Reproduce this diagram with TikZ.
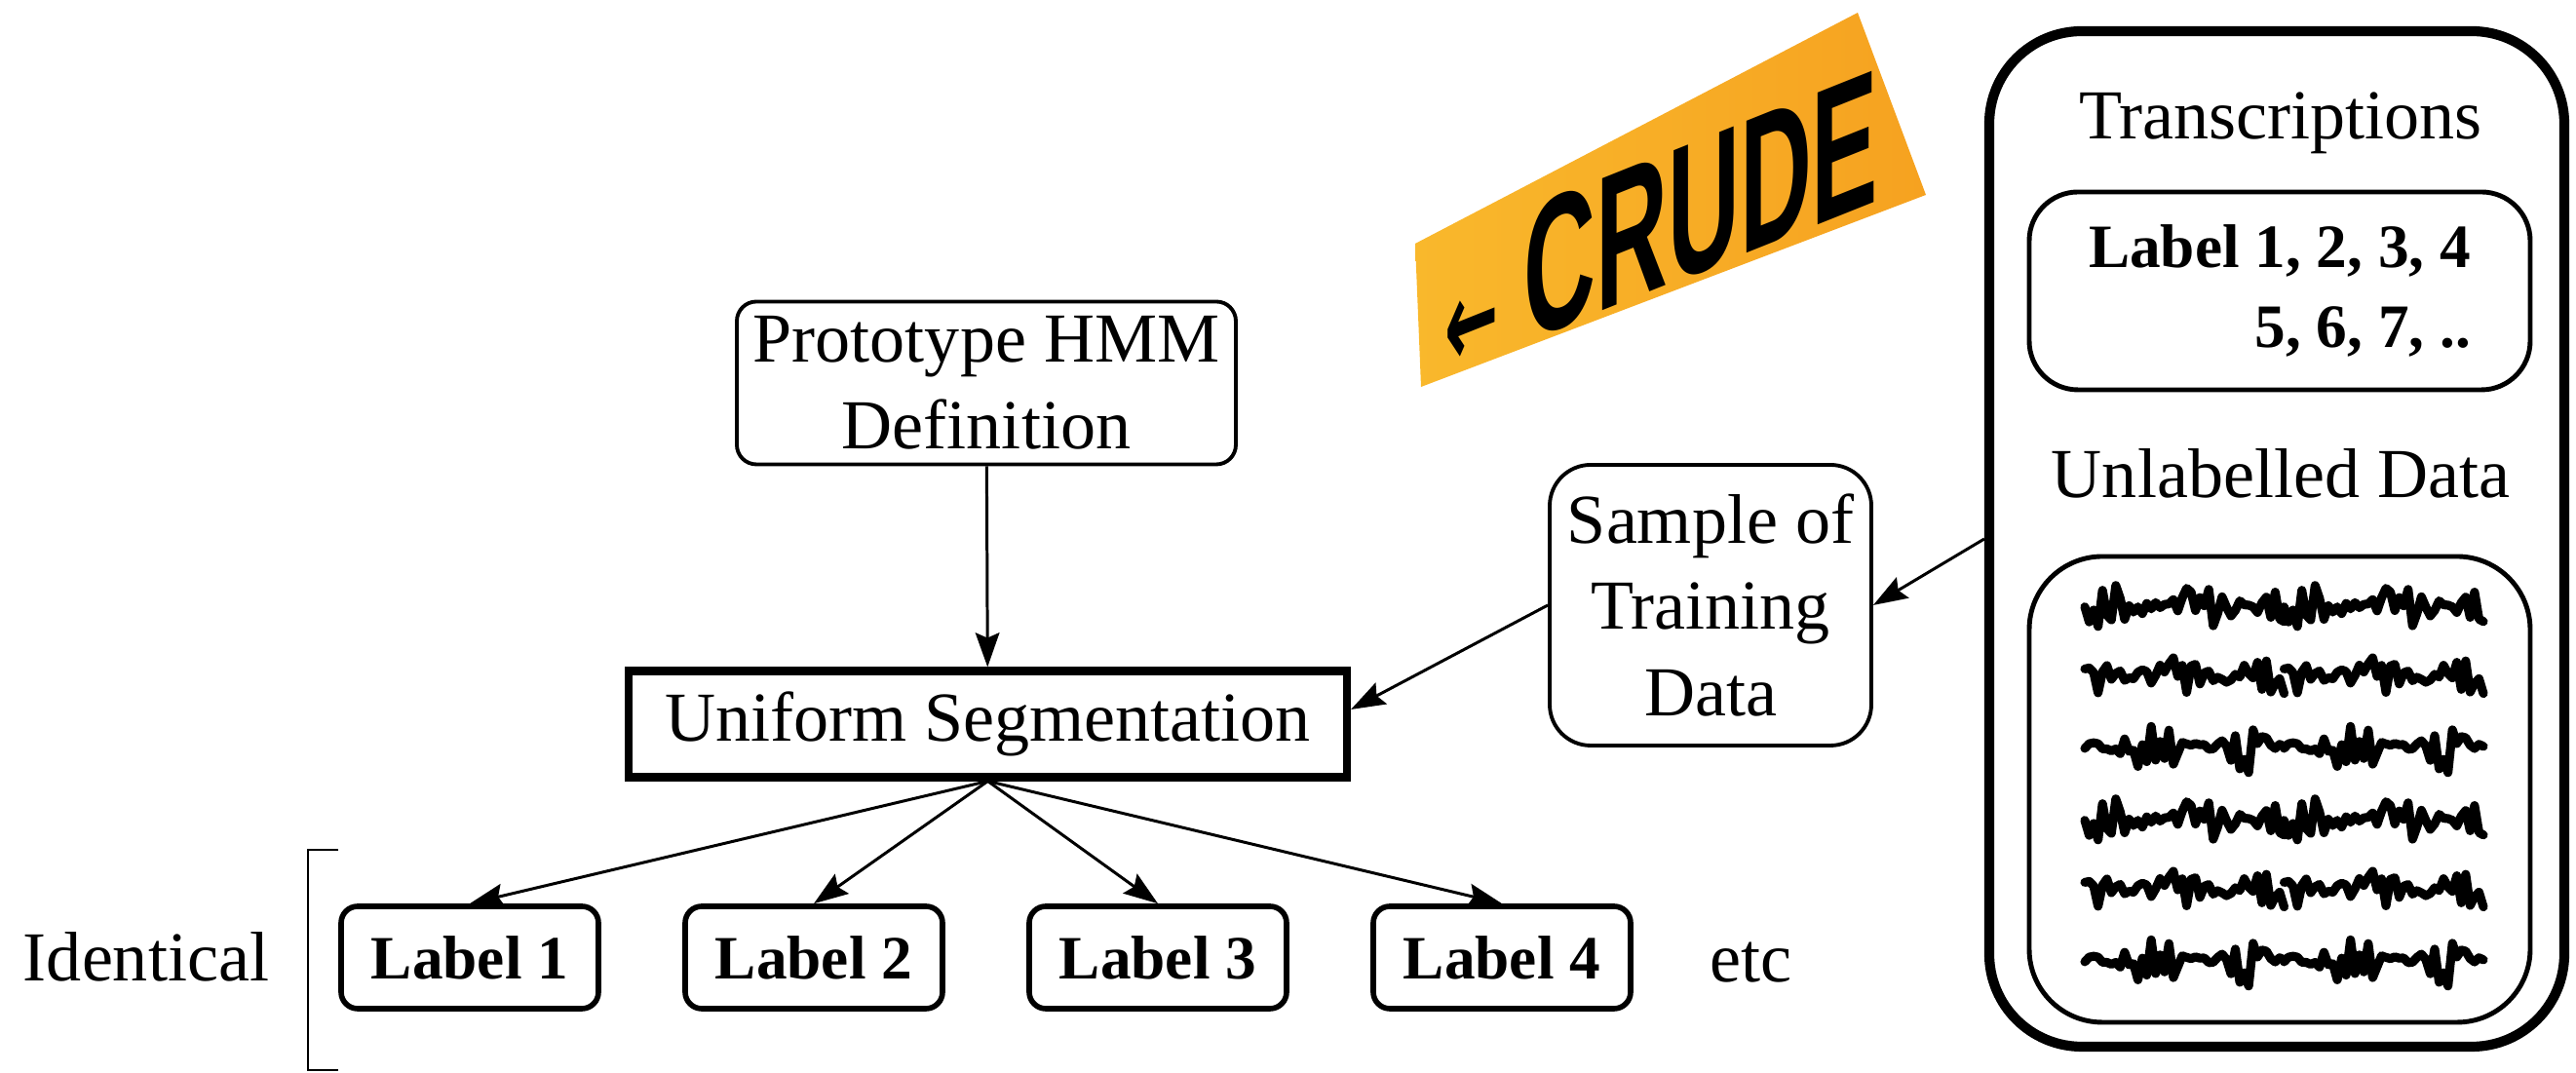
\documentclass[tikz,border=0pt]{standalone}
\usepackage{fontspec}
\setmainfont{Liberation Serif}
\newfontfamily\badgefont{Liberation Sans}
\newfontfamily\arrowfont{DejaVu Sans}
\usepackage{xcolor}
\usetikzlibrary{arrows.meta, positioning, calc}

\definecolor{badgelight}{RGB}{249,184,44}
\definecolor{badgedark}{RGB}{246,162,32}

\tikzset{
  %% Rounded box, thin outline
  rbox/.style={
    rectangle, rounded corners=#1, draw=black,
    line width=1.1pt, align=center, inner sep=2pt
  },
  rbox/.default=2mm,
  %% Bold label box
  lbox/.style={
    rectangle, rounded corners=1.7mm, draw=black,
    line width=1.6pt, minimum width=2.64cm, minimum height=1.05cm,
    font=\fontsize{18}{23.3}\selectfont\bfseries
  },
  %% Arrow
  arr/.style={-{Stealth[length=10pt,width=7pt,inset=1.5pt]},
              draw=black, line width=0.85pt},
  %% Speech trace
  wave/.style={draw=black, line width=2.6pt, line join=round, line cap=round},
}

\begin{document}
\begin{tikzpicture}[every node/.style={font=\fontsize{20.5}{25.3}\selectfont}]
  \useasboundingbox (0,0) rectangle (26.43,11.01);

  %% Tag
  \shade[left color=badgelight, right color=badgedark]
       (14.52,8.51) -- (19.06,10.88) -- (19.76,9.01) -- (14.58,7.04) -- cycle;
  \begin{scope}[shift={(17.05,8.74)}, yslant=0.40, xscale=0.52]
    \node[transform shape, inner sep=0pt,
          font=\badgefont\bfseries\fontsize{56}{60}\selectfont] (crude) at (0,0)
         {{\arrowfont\fontsize{36}{36}\selectfont ←}\hspace{0.25em}CRUDE};
  \end{scope}

  %% Main flow
  \node[rbox, minimum width=5.12cm, minimum height=1.67cm] (proto) at (10.12,7.08)
       {Prototype HMM\\Definition};
  \node[draw, line width=2.3pt, minimum width=7.37cm, minimum height=1.09cm]
       (seg) at (10.135,3.58) {Uniform Segmentation};
  \node[rbox=4.2mm, minimum width=3.30cm, minimum height=2.88cm] (sample) at (17.55,4.80)
       {Sample of\\Training\\Data};

  %% Output labels
  \foreach \i/\x in {1/4.82, 2/8.35, 3/11.88, 4/15.41}
    \node[lbox] (lab\i) at (\x,1.185) {Label \i};
  \node[anchor=base] (etc) at (17.96,0.93) {etc};
  \node[anchor=base] (ident) at (1.50,0.94) {Identical};
  \draw[line width=0.8pt] (3.47,2.29) -- (3.16,2.29) -- (3.16,0.03) -- (3.47,0.03);

  %% Data store
  \node[draw, line width=2.9pt, rounded corners=9.5mm,
        minimum width=5.9cm, minimum height=10.42cm] (data) at (23.36,5.48) {};
  \node[anchor=base] (trans) at (23.40,9.58) {Transcriptions};
  \node[draw, rounded corners=5mm, line width=1.4pt, align=right,
        minimum width=5.14cm, minimum height=2.03cm,
        font=\fontsize{18}{23.3}\selectfont\bfseries] (labels) at (23.39,8.025)
       {Label 1, 2, 3, 4\\5, 6, 7, ..};
  \node[anchor=base] (unlab) at (23.40,5.90) {Unlabelled Data};
  \node[draw, rounded corners=7.5mm, line width=1.4pt,
        minimum width=5.14cm, minimum height=4.78cm] (audio) at (23.39,2.91) {};

  %% Traces: rows r and r+3 repeat, each row is one burst drawn twice
  \foreach \r in {0,...,5} {
    \pgfmathtruncatemacro{\sd}{17*mod(\r,3)+5}
    \pgfmathsetmacro{\yb}{4.79-0.73*\r}
    \foreach \h in {0,1} {
      \pgfmathsetseed{\sd}
      \pgfmathsetmacro{\xa}{21.39+2.045*\h}
      \draw[wave] plot[domain=0:2.045, samples=46, variable=\t]
        (\xa+\t, {\yb + (0.05+0.2*pow(abs(sin(190*\t+45*\sd)),2))*rand});
    }
  }

  %% Arrows
  \draw[arr] (proto) -- (seg);
  \draw[arr] (data.west) -- (sample.east);
  \draw[arr] (sample.west) -- ([yshift=1.5mm]seg.east);
  \foreach \i in {1,...,4}
    \draw[arr] (seg.south) -- (lab\i.north);

\end{tikzpicture}
\end{document}
